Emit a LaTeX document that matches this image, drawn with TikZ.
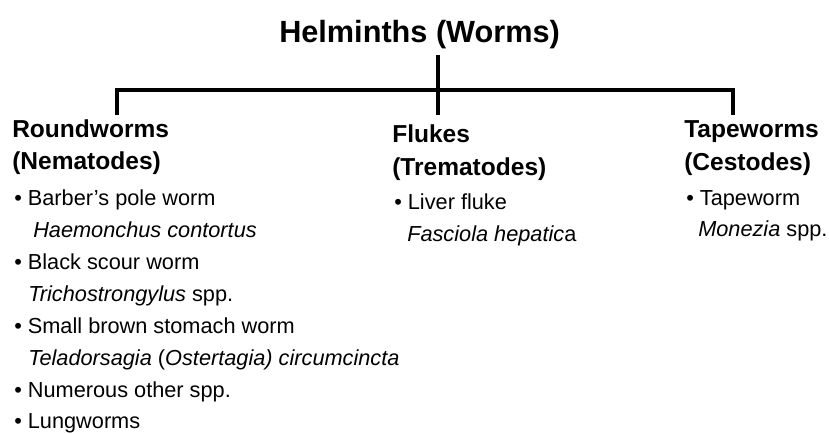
\documentclass[tikz,border=0pt]{standalone}
\usepackage{fontspec}
\setmainfont{Liberation Sans}
\usetikzlibrary{positioning}

\begin{document}
\begin{tikzpicture}[x=0.75pt,y=-0.75pt,
  title/.style={anchor=base west,inner sep=0pt,
                font=\bfseries\fontsize{23}{28}\selectfont},
  group/.style={anchor=base west,inner sep=0pt,
                font=\bfseries\fontsize{18.4}{22}\selectfont},
  item/.style={anchor=base west,inner sep=0pt,
               font=\fontsize{16.3}{20}\selectfont},
  branch/.style={line width=2.4pt,line join=miter},
]
  \useasboundingbox (0,0) rectangle (829,433);

  % Title
  \node[title] (helminths) at (279,42) {Helminths (Worms)};

  % Tree
  \coordinate (stem)    at (438,55);
  \coordinate (rw-drop) at (117,115);
  \coordinate (fl-drop) at (438,115);
  \coordinate (tw-drop) at (733,115);
  \draw[branch] (rw-drop) -- ++(0,-25) -| (tw-drop);
  \draw[branch] (stem) -- (fl-drop);

  % Roundworms
  \node[group] (rw-head) at (12,137) {Roundworms};
  \node[group] (rw-sub)  at (12,169) {(Nematodes)};
  \node[item] (rw-1)  at (14,205) {\textbullet\ Barber’s pole worm};
  \node[item] (rw-1s) at (33,237) {\itshape Haemonchus contortus};
  \node[item] (rw-2)  at (14,269) {\textbullet\ Black scour worm};
  \node[item] (rw-2s) at (28,301) {\textit{Trichostrongylus} spp.};
  \node[item] (rw-3)  at (14,333) {\textbullet\ Small brown stomach worm};
  \node[item] (rw-3s) at (28,365)
    {\textit{Teladorsagia} (\textit{Ostertagia) circumcincta}};
  \node[item] (rw-4)  at (14,397) {\textbullet\ Numerous other spp.};
  \node[item] (rw-5)  at (14,428) {\textbullet\ Lungworms};

  % Flukes
  \node[group] (fl-head) at (392,142) {Flukes};
  \node[group] (fl-sub)  at (392,175) {(Trematodes)};
  \node[item] (fl-1)  at (394,209) {\textbullet\ Liver fluke};
  \node[item] (fl-1s) at (407,241) {\textit{Fasciola hepatic}a};

  % Tapeworms
  \node[group] (tw-head) at (684,137) {Tapeworms};
  \node[group] (tw-sub)  at (684,170) {(Cestodes)};
  \node[item] (tw-1)  at (686,205) {\textbullet\ Tapeworm};
  \node[item] (tw-1s) at (698,236) {\textit{Monezia} spp.};
\end{tikzpicture}
\end{document}
